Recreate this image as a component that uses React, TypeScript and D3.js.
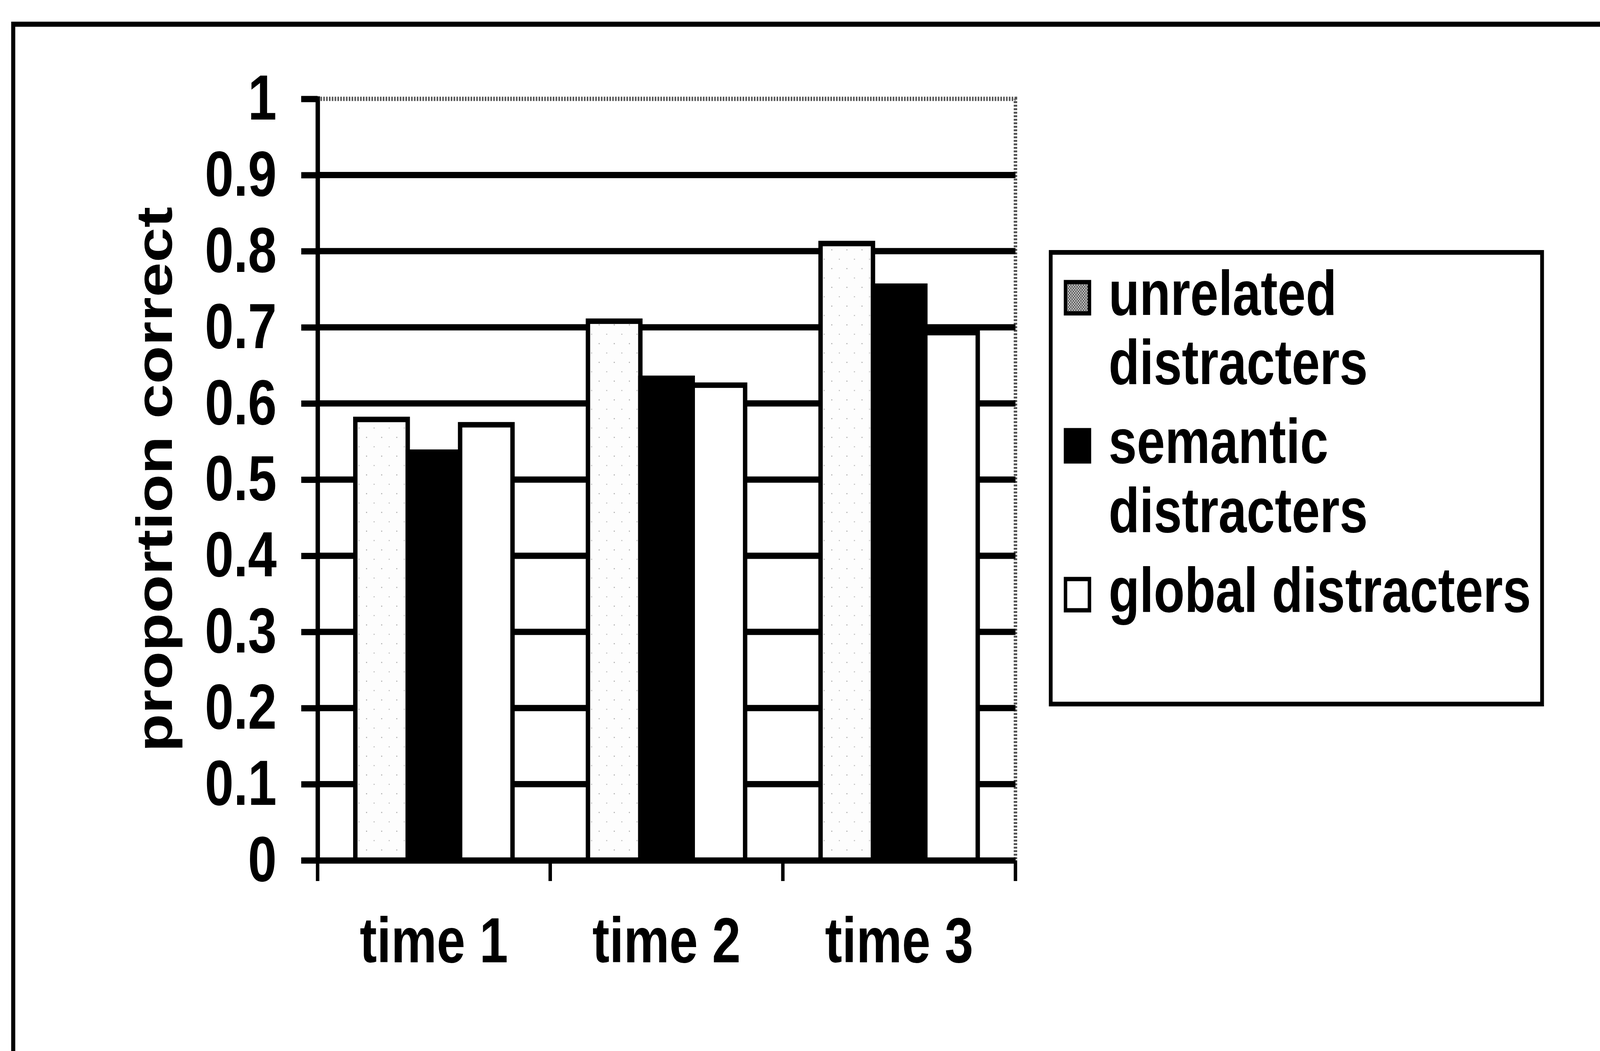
import React, { useRef, useEffect } from "react";
import * as d3 from "d3";

// data
const categories = ["time 1", "time 2", "time 3"];
const seriesNames = ["unrelated", "semantic", "global"];
const unrelated = [0.579, 0.708, 0.81];
const semantic = [0.536, 0.633, 0.754];
const global = [0.572, 0.624, 0.693];
const yTicks = [0, 0.1, 0.2, 0.3, 0.4, 0.5, 0.6, 0.7, 0.8, 0.9, 1];
const legendLines = [
  ["unrelated", "distracters"],
  ["semantic", "distracters"],
  ["global distracters"],
];

const W = 5083;
const H = 2690;
const FONT = "'Liberation Sans', Arial, sans-serif";

const App: React.FC = () => {
  const svgRef = useRef<SVGSVGElement | null>(null);

  useEffect(() => {
    const svg = d3.select(svgRef.current);
    svg.selectAll("*").remove();

    const plot = { left: 1009, right: 3226, top: 253, bottom: 2202 };

    const x = d3.scaleBand<string>().domain(categories).range([plot.left, plot.right]);
    const inner = d3
      .scaleBand<string>()
      .domain(seriesNames)
      .range([0, x.bandwidth()])
      .paddingInner(0)
      .paddingOuter(0.72);
    const y = d3.scaleLinear().domain([0, 1]).range([plot.bottom, plot.top]);

    const values: Record<string, number[]> = { unrelated, semantic, global };

    // patterns
    const defs = svg.append("defs");
    const pLight = defs
      .append("pattern")
      .attr("id", "dotsLight")
      .attr("width", 48)
      .attr("height", 48)
      .attr("patternUnits", "userSpaceOnUse");
    pLight.append("rect").attr("width", 48).attr("height", 48).attr("fill", "#fdfdfd");
    pLight.append("rect").attr("x", 10).attr("y", 14).attr("width", 3).attr("height", 3).attr("fill", "#aaa");
    pLight.append("rect").attr("x", 34).attr("y", 38).attr("width", 3).attr("height", 3).attr("fill", "#bbb");

    const pDark = defs
      .append("pattern")
      .attr("id", "dotsDark")
      .attr("width", 8)
      .attr("height", 8)
      .attr("patternUnits", "userSpaceOnUse");
    pDark.append("rect").attr("width", 8).attr("height", 8).attr("fill", "#c8c8c8");
    pDark.append("rect").attr("width", 4).attr("height", 4).attr("fill", "#555");
    pDark.append("rect").attr("x", 4).attr("y", 4).attr("width", 4).attr("height", 4).attr("fill", "#555");

    const barFill: Record<string, string> = {
      unrelated: "url(#dotsLight)",
      semantic: "#000",
      global: "#fff",
    };
    const swatchFill: Record<string, string> = {
      unrelated: "url(#dotsDark)",
      semantic: "#000",
      global: "#fff",
    };

    svg.append("rect").attr("width", W).attr("height", H).attr("fill", "#fff");

    // outer frame (only top and left edges show)
    svg
      .append("path")
      .attr("d", `M42,${H + 20} L42,62 L${W + 20},62`)
      .attr("fill", "none")
      .attr("stroke", "#000")
      .attr("stroke-width", 13);

    // plot area border (dotted grey top/right)
    svg
      .append("path")
      .attr("d", `M${plot.left},${plot.top} L${plot.right},${plot.top} L${plot.right},${plot.bottom}`)
      .attr("fill", "none")
      .attr("stroke", "#555")
      .attr("stroke-width", 11)
      .attr("stroke-dasharray", "5 4");

    // gridlines
    svg
      .append("g")
      .selectAll("line")
      .data(yTicks.filter((t) => t > 0 && t < 1))
      .enter()
      .append("line")
      .attr("x1", plot.left)
      .attr("x2", plot.right)
      .attr("y1", (d) => y(d))
      .attr("y2", (d) => y(d))
      .attr("stroke", "#000")
      .attr("stroke-width", 16);

    // bars
    const groups = svg
      .append("g")
      .selectAll("g")
      .data(categories)
      .enter()
      .append("g")
      .attr("transform", (d) => `translate(${x(d)},0)`);

    groups
      .selectAll("rect")
      .data((_, i) => seriesNames.map((s) => ({ s, v: values[s][i] })))
      .enter()
      .append("rect")
      .attr("x", (d) => inner(d.s)!)
      .attr("width", inner.bandwidth())
      .attr("y", (d) => y(d.v))
      .attr("height", (d) => plot.bottom - y(d.v))
      .attr("fill", (d) => barFill[d.s])
      .attr("stroke", "#000")
      .attr("stroke-width", 14);

    // y axis
    const yAxis = svg
      .append("g")
      .attr("transform", `translate(${plot.left},0)`)
      .call(d3.axisLeft(y).tickValues(yTicks).tickSize(52).tickPadding(78).tickFormat((d) => String(d)));
    yAxis.select(".domain").attr("stroke", "#000").attr("stroke-width", 14);
    yAxis.selectAll("line").attr("stroke", "#000").attr("stroke-width", 16);
    yAxis
      .selectAll("text")
      .attr("font-family", FONT)
      .attr("font-weight", "bold")
      .attr("font-size", 164)
      .attr("fill", "#000");

    // x axis
    const xAxis = svg
      .append("g")
      .attr("transform", `translate(0,${plot.bottom})`)
      .call(d3.axisBottom(x).tickSize(0).tickPadding(145));
    xAxis.select(".domain").attr("stroke", "#000").attr("stroke-width", 16);
    xAxis
      .selectAll("text")
      .attr("font-family", FONT)
      .attr("font-weight", "bold")
      .attr("font-size", 163)
      .attr("fill", "#000");

    // category separators below the axis
    const bounds = [...categories.map((c) => x(c)!), plot.right];
    svg
      .append("g")
      .selectAll("line")
      .data(bounds)
      .enter()
      .append("line")
      .attr("x1", (d) => d)
      .attr("x2", (d) => d)
      .attr("y1", plot.bottom)
      .attr("y2", plot.bottom + 53)
      .attr("stroke", "#000")
      .attr("stroke-width", 11);

    // y label
    svg
      .append("text")
      .attr("transform", `translate(546,1227) rotate(-90)`)
      .attr("text-anchor", "middle")
      .attr("font-family", FONT)
      .attr("font-weight", "bold")
      .attr("font-size", 160)
      .attr("fill", "#000")
      .text("proportion correct");

    // legend
    const leg = svg.append("g");
    leg
      .append("rect")
      .attr("x", 3338)
      .attr("y", 646)
      .attr("width", 1561)
      .attr("height", 1156)
      .attr("fill", "#fff")
      .attr("stroke", "#000")
      .attr("stroke-width", 12);

    const entryBase = [806, 1185, 1566];
    const lineStep = 177;
    seriesNames.forEach((s, i) => {
      leg
        .append("rect")
        .attr("x", 3385)
        .attr("y", entryBase[i] - 84)
        .attr("width", 76)
        .attr("height", 80)
        .attr("fill", swatchFill[s])
        .attr("stroke", "#000")
        .attr("stroke-width", 11);
      legendLines[i].forEach((t, j) => {
        leg
          .append("text")
          .attr("x", 3522)
          .attr("y", entryBase[i] + j * lineStep)
          .attr("font-family", FONT)
          .attr("font-weight", "bold")
          .attr("font-size", 161)
          .attr("fill", "#000")
          .text(t);
      });
    });
  }, []);

  // the viewBox is stretched over the whole window so the chart fills it
  return (
    <svg
      ref={svgRef}
      viewBox={`0 0 ${W} ${H}`}
      preserveAspectRatio="none"
      style={{ position: "fixed", left: 0, top: 0, width: "100vw", height: "100vh", display: "block" }}
    ></svg>
  );
};

export default App;
